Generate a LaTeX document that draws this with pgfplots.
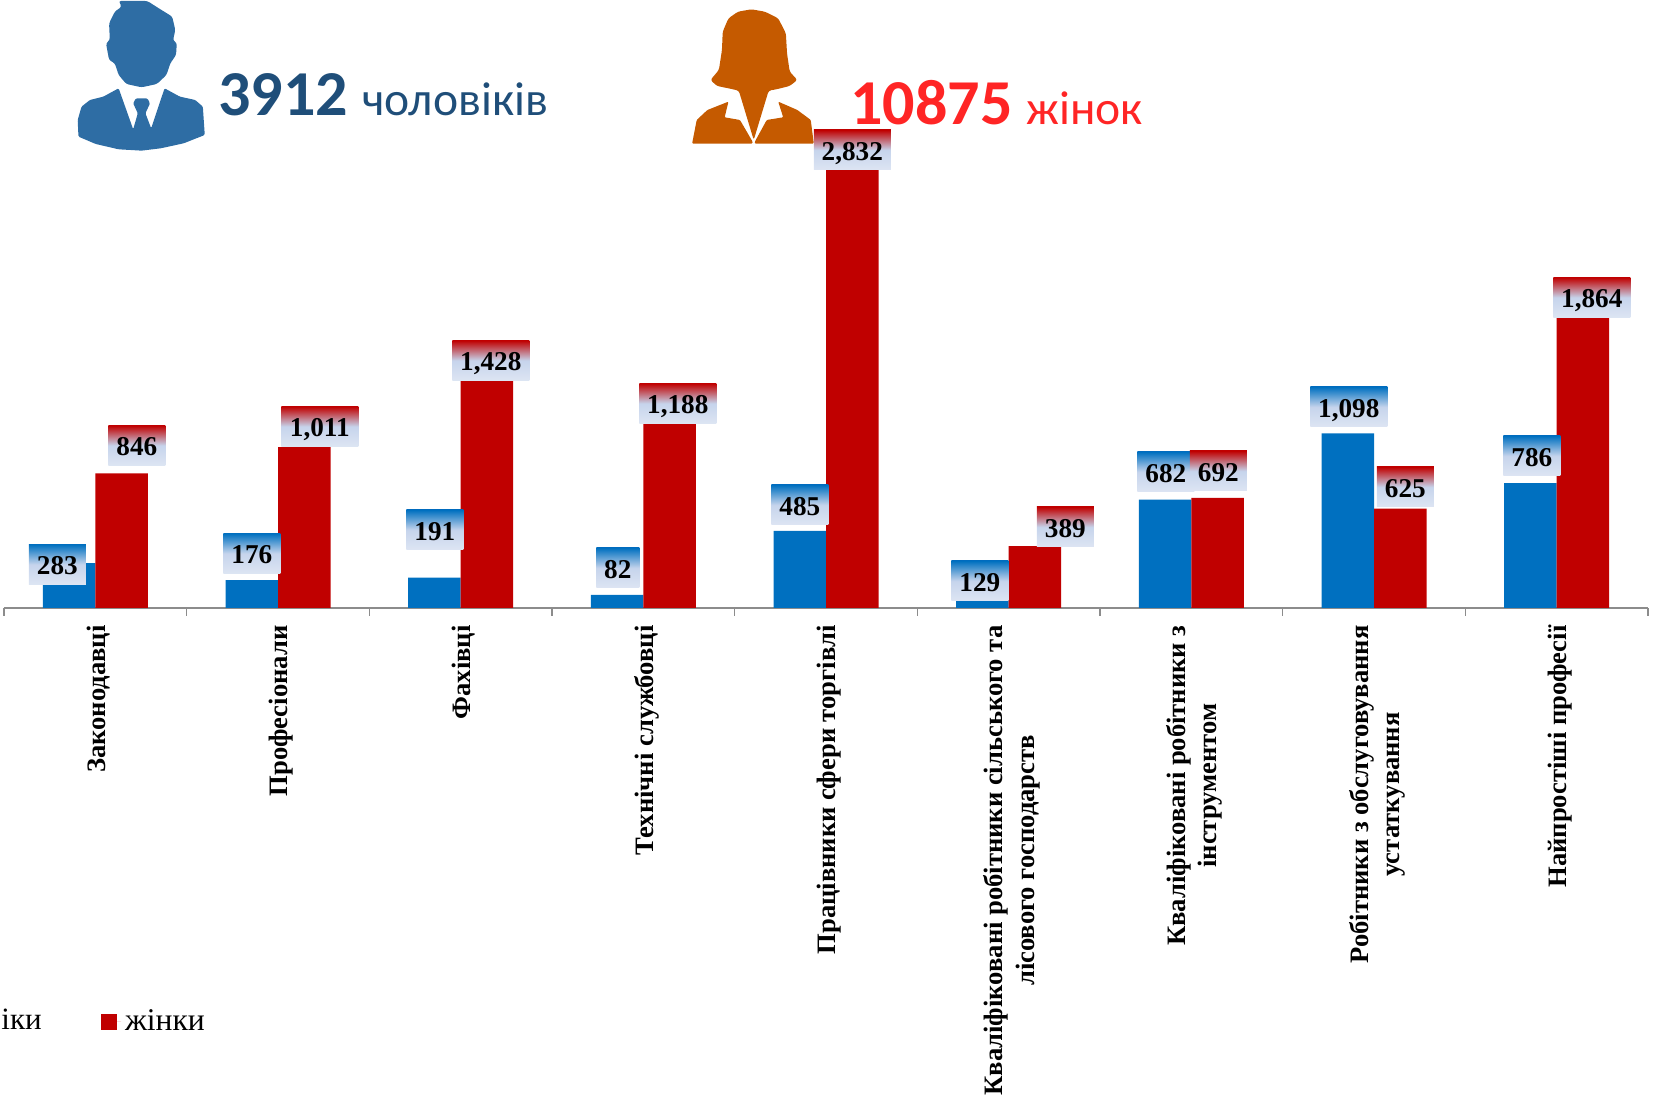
\documentclass[border=0pt]{standalone}
\usepackage{fontspec}
\setmainfont{Liberation Serif}
\newfontfamily\carlito{Carlito}
\usepackage{pgfplots}
\pgfplotsset{compat=1.18}
\definecolor{barblue}{HTML}{0070C0}
\definecolor{barred}{HTML}{C00000}
\definecolor{manblue}{HTML}{2E6DA4}
\definecolor{mantext}{HTML}{1F4E79}
\definecolor{womantext}{HTML}{FF2525}
\definecolor{womanor}{HTML}{C55A00}
\definecolor{labA}{HTML}{DDE5F3}
\definecolor{labB}{HTML}{C6D4EC}
\pgfdeclareverticalshading{bluelab}{100bp}{color(0bp)=(labA); color(25bp)=(labA); color(50bp)=(labB); color(75bp)=(barblue); color(100bp)=(barblue)}
\pgfdeclareverticalshading{redlab}{100bp}{color(0bp)=(labA); color(25bp)=(labA); color(50bp)=(labB); color(75bp)=(barred); color(100bp)=(barred)}
% label: style, category index, value, centre x px, centre y px, width in half-pixels
\newcommand{\labl}[6]{\node[shading=#1, inner sep=0pt, minimum height=20pt, minimum width=#6pt,
  text height=10.4pt, text depth=0pt,
  font=\fontsize{13.6}{14}\selectfont\bfseries,
  xshift={(#4-(95+182.67*#2))*0.5pt}, yshift={((608-0.159*#3)-#5)*0.5pt}] at (axis cs:#2,#3) {\pgfmathprintnumber[assume math mode=true,1000 sep={,}]{#3}};}
\begin{document}
\begin{tikzpicture}[x=1pt,y=1pt]
\useasboundingbox (0,0) rectangle (826.5,551);
% man icon
\begin{scope}[shift={(0,551)},x=0.5pt/2.613,y=-0.5pt/3]
\fill[manblue,rounded corners=1.2pt] (310,3)--(385,3)--(415,25)--(450,50)--(458,90)--(452,122)--(462,128)--(460,165)--(445,190)--(435,225)--(410,252)--(370,262)--(330,252)--(310,225)--(300,190)--(285,180)--(277,130)--(287,120)--(285,70)--(300,35)--(318,20)--cycle;
\fill[manblue,rounded corners=0.6pt] (205,410)--(203,360)--(213,320)--(235,300)--(270,290)--(310,265)--(348,388)--(360,340)--(348,310)--(355,295)--(385,295)--(392,310)--(380,340)--(395,385)--(430,265)--(470,290)--(510,300)--(530,320)--(535,405)--(480,430)--(420,445)--(370,452)--(310,448)--(250,432)--cycle;
\end{scope}
% woman icon
\begin{scope}[shift={(325,551)},x=0.5pt/2.613,y=-0.5pt/3]
\fill[womanor,rounded corners=1.2pt] (265,28)--(300,35)--(335,55)--(355,100)--(358,160)--(365,215)--(385,240)--(365,258)--(330,268)--(310,272)--(271,420)--(232,272)--(205,265)--(175,258)--(158,240)--(180,210)--(188,150)--(190,95)--(205,55)--(230,35)--cycle;
\fill[womanor,rounded corners=0.5pt] (110,431)--(122,360)--(150,330)--(205,305)--(195,352)--(235,360)--(268,425)--(268,431)--cycle;
\fill[womanor,rounded corners=0.5pt] (428,431)--(420,360)--(385,330)--(335,305)--(348,352)--(305,360)--(274,425)--(274,431)--cycle;
\end{scope}
% headline texts
\node[anchor=base west,inner sep=0pt,text=mantext,font=\carlito] at (109,493) {\fontsize{32}{32}\selectfont\bfseries 3912};
\node[anchor=base west,inner sep=0pt,text=mantext,font=\carlito] at (181,493) {\fontsize{23.8}{24}\selectfont чоловіків};
\node[anchor=base west,inner sep=0pt,text=womantext,font=\carlito] at (425,488.5) {\fontsize{32}{32}\selectfont\bfseries 10875};
\node[anchor=base west,inner sep=0pt,text=womantext,font=\carlito] at (513,488.5) {\fontsize{23.8}{24}\selectfont жінок};
% legend remnant, cut by the left edge in the reference
\node[anchor=base west,inner sep=0pt,font=\fontsize{15.5}{16}\selectfont] at (0.5,36.2) {іки};
\begin{axis}[
  at={(2pt,247pt)}, anchor=south west,
  scale only axis, width=822pt, height=230.55pt,
  xmin=-0.5, xmax=8.5, ymin=0, ymax=2900,
  clip=false,
  axis x line*=bottom, axis y line=none,
  axis line style={color=black!45,line width=0.8pt},
  xtick={0,...,8},
  xticklabels={Законодавці,Професіонали,Фахівці,Технічні службовці,Працівники сфери торгівлі,{Кваліфіковані робітники сільського та\\лісового господарств},{Кваліфіковані робітники з\\інструментом},{Робітники з обслуговування\\устаткування},Найпростіші професії},
  minor xtick={-0.5,0.5,...,8.5},
  major tick length=0pt, minor tick length=4pt,
  tick align=outside, tick pos=bottom,
  minor tick style={color=black!45,line width=0.7pt},
  x tick label style={rotate=90,anchor=east,align=center,font=\fontsize{13.3}{15.8}\selectfont\bfseries,inner sep=0pt,yshift=-1.6pt},
  xticklabel shift=8.5pt,
  legend style={at={(0.0588,-0.897)},anchor=west,draw=none,fill=none,inner sep=0pt,font=\fontsize{15.8}{16}\selectfont},
  legend image code/.code={\fill[barred] (0pt,-4pt) rectangle (8pt,4pt);\path (0pt,0pt)--(10pt,0pt);},
]
\addplot[ybar,bar width=26.25pt,bar shift=-13.125pt,fill=barblue,draw=none,forget plot] coordinates {(0,283)(1,176)(2,191)(3,82)(4,485)(5,129)(6,682)(7,1098)(8,786)};
\addplot[ybar,bar width=26.25pt,bar shift=13.125pt,fill=barred,draw=none] coordinates {(0,846)(1,1011)(2,1428)(3,1188)(4,2832)(5,389)(6,692)(7,625)(8,1864)};
\addlegendentry{жінки}
\labl{bluelab}{0}{283}{57}{564.5}{28.5}
\labl{redlab}{0}{846}{136.5}{445.5}{28.5}
\labl{bluelab}{1}{176}{251.5}{553.5}{28.5}
\labl{redlab}{1}{1011}{319.5}{426.5}{38.5}
\labl{bluelab}{2}{191}{434.5}{530}{28.5}
\labl{redlab}{2}{1428}{490.5}{360.5}{38.5}
\labl{bluelab}{3}{82}{617.5}{568}{21.5}
\labl{redlab}{3}{1188}{677.5}{403.5}{38.5}
\labl{bluelab}{4}{485}{799.5}{505}{28.5}
\labl{redlab}{4}{2832}{852}{150}{38.5}
\labl{bluelab}{5}{129}{979.5}{581}{28.5}
\labl{redlab}{5}{389}{1065}{527}{28.5}
\labl{bluelab}{6}{682}{1165.5}{472}{28.5}
\labl{redlab}{6}{692}{1218}{471}{28.5}
\labl{bluelab}{7}{1098}{1348.5}{407}{38.5}
\labl{redlab}{7}{625}{1405}{487}{28.5}
\labl{bluelab}{8}{786}{1531.5}{456}{28.5}
\labl{redlab}{8}{1864}{1591.5}{297.5}{38.5}
\end{axis}
\end{tikzpicture}
\end{document}
